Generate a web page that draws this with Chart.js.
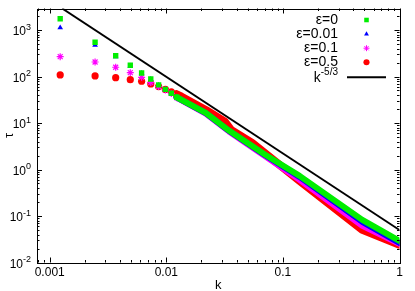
<!DOCTYPE html>
<html>
<head>
<meta charset="utf-8">
<script src="https://cdn.jsdelivr.net/npm/chart.js@4.4.0/dist/chart.umd.min.js"></script>
<style>
  html, body { margin: 0; padding: 0; background: #fff; }
  #wrap { width: 415px; height: 291px; position: relative; }
</style>
</head>
<body>
<div id="wrap"><canvas id="main-chart"></canvas></div>
<script>
//data
//first resolved wavenumbers (separate markers)
const k_low = [0.00123, 0.00245, 0.00368, 0.00491, 0.00614, 0.00736, 0.00859, 0.00982, 0.01104, 0.01227];
const tau_eps0   = [1750, 545, 280, 175, 119, 88.5, 66, 53, 43.6, 35.8];
const tau_eps001 = [1120, 476, 267, 168, 117, 87, 65, 52.5, 43, 35.5];
const tau_eps01  = [267, 205, 158, 121, 96, 74, 61, 51.4, 43.3, 35];
const tau_eps05  = [108, 103, 94.5, 85.5, 79, 69.2, 60.6, 52.7, 47, 41.5];

//dense tail, the markers overlap into a band
const k_tail_eps0   = [0.01227, 0.0218, 0.0347, 0.07, 0.139, 0.48, 1];
const tau_tail_eps0 = [35.8, 16.5, 6.8, 2.1, 0.73, 0.0827, 0.0292];
const k_tail_eps001   = [0.01227, 0.0218, 0.0347, 0.07, 0.139, 0.48, 1];
const tau_tail_eps001 = [35.5, 16.3, 6.7, 2.05, 0.694, 0.0749, 0.0265];
const k_tail_eps01   = [0.01227, 0.0218, 0.0347, 0.07, 0.139, 0.48, 1];
const tau_tail_eps01 = [35, 16, 6.5, 1.95, 0.598, 0.0614, 0.0252];
const k_tail_eps05   = [0.01227, 0.0135, 0.0218, 0.032, 0.0359, 0.0544, 0.139, 0.48, 1];
const tau_tail_eps05 = [41.5, 36.9, 19.1, 10.5, 7.1, 3.73, 0.569, 0.0505, 0.024];

//reference slope k^-5/3
const k_ref   = [0.00128, 1];
const tau_ref = [2900, 0.05];

//legend and axes text
const series_labels = ['\u03b5=0', '\u03b5=0.01', '\u03b5=0.1', '\u03b5=0.5'];
const series_colors = ['#00ee00', '#0000ff', '#ff00ff', '#ff0000'];
const series_points = ['rect', 'triangle', 'star', 'circle'];
const x_ticks = [0.001, 0.01, 0.1, 1];
const x_tick_labels = ['0.001', '0.01', '0.1', '1'];
const y_ticks = [0.01, 0.1, 1, 10, 100, 1000];
const y_tick_exps = ['-2', '-1', '0', '1', '2', '3'];

//helper to zip two arrays into points
function pts(xs, ys) {
  return xs.map((x, i) => ({x: x, y: ys[i]}));
}

const lows = [tau_eps0, tau_eps001, tau_eps01, tau_eps05];
const tails = [
  [k_tail_eps0, tau_tail_eps0],
  [k_tail_eps001, tau_tail_eps001],
  [k_tail_eps01, tau_tail_eps01],
  [k_tail_eps05, tau_tail_eps05]
];
const radii = [3.8, 3.3, 3.5, 3.6];
const bands = [6, 6, 6, 8];

const datasets = [];
for (let i = 0; i < 4; i++) {
  //band first, markers on top
  datasets.push({
    label: series_labels[i] + ' tail',
    data: pts(tails[i][0], tails[i][1]),
    showLine: true,
    borderColor: series_colors[i],
    borderWidth: bands[i],
    borderJoinStyle: 'round',
    borderCapStyle: 'round',
    pointRadius: 0,
    tension: 0
  });
  datasets.push({
    label: series_labels[i],
    data: pts(k_low, lows[i]),
    showLine: false,
    pointStyle: series_points[i],
    pointRadius: radii[i],
    backgroundColor: series_colors[i],
    borderColor: series_colors[i],
    borderWidth: i == 2 ? 1.2 : 0
  });
}
datasets.push({
  label: 'k^-5/3',
  data: pts(k_ref, tau_ref),
  showLine: true,
  borderColor: '#000',
  borderWidth: 2,
  pointRadius: 0
});

const FONT = '"Liberation Sans", Arial, sans-serif';

//gnuplot style frame, ticks, labels and key
const frame = {
  id: 'frame',
  afterDraw(chart) {
    const ctx = chart.ctx;
    const a = chart.chartArea;
    const xs = chart.scales.x, ys = chart.scales.y;
    ctx.save();
    ctx.strokeStyle = '#000';
    ctx.lineWidth = 1;

    //ticks, pointing inwards on all four sides
    ctx.beginPath();
    for (let d = -4; d <= 0; d++) {
      for (let m = 1; m <= 9; m++) {
        const v = m * Math.pow(10, d);
        if (v < xs.min || v > xs.max) continue;
        const px = Math.round(xs.getPixelForValue(v)) + 0.5;
        const len = m == 1 ? 5 : 2.5;
        ctx.moveTo(px, a.bottom); ctx.lineTo(px, a.bottom - len);
        ctx.moveTo(px, a.top); ctx.lineTo(px, a.top + len);
      }
    }
    for (let d = -2; d <= 3; d++) {
      for (let m = 1; m <= 9; m++) {
        const v = m * Math.pow(10, d);
        if (v < ys.min || v > ys.max) continue;
        const py = Math.round(ys.getPixelForValue(v)) + 0.5;
        const len = m == 1 ? 5 : 2.5;
        ctx.moveTo(a.left, py); ctx.lineTo(a.left + len, py);
        ctx.moveTo(a.right, py); ctx.lineTo(a.right - len, py);
      }
    }
    ctx.stroke();
    ctx.strokeRect(Math.round(a.left) + 0.5, Math.round(a.top) + 0.5,
                   Math.round(a.right - a.left), Math.round(a.bottom - a.top));

    ctx.fillStyle = '#000';
    //x tick labels
    ctx.font = '12px ' + FONT;
    ctx.textAlign = 'center';
    ctx.textBaseline = 'middle';
    x_ticks.forEach((v, i) => {
      ctx.fillText(x_tick_labels[i], xs.getPixelForValue(v), a.bottom + 10);
    });
    //y tick labels, 10 with a raised exponent
    y_ticks.forEach((v, i) => {
      const py = ys.getPixelForValue(v);
      ctx.font = '9px ' + FONT;
      const we = ctx.measureText(y_tick_exps[i]).width;
      ctx.textAlign = 'right';
      ctx.fillText(y_tick_exps[i], 31, py - 2.5);
      ctx.font = '12px ' + FONT;
      ctx.fillText('10', 31 - we, py + 2);
    });
    //axis titles
    ctx.font = '13px ' + FONT;
    ctx.textAlign = 'center';
    ctx.fillText('k', (a.left + a.right) / 2, 285);
    ctx.save();
    ctx.translate(9.5, (a.top + a.bottom) / 2);
    ctx.rotate(-Math.PI / 2);
    ctx.fillText('\u03c4', 0, 0);
    ctx.restore();

    //key, text right aligned with the sample on its right
    const kx = 338, sx = 366.5, y0 = 20, dy = 14.1;
    ctx.textAlign = 'right';
    for (let i = 0; i < 4; i++) {
      const ky = y0 + i * dy;
      ctx.fillStyle = '#000';
      ctx.font = '14px ' + FONT;
      ctx.fillText(series_labels[i], kx, ky);
      ctx.fillStyle = series_colors[i];
      ctx.strokeStyle = series_colors[i];
      ctx.lineWidth = 1;
      Chart.helpers.drawPoint(ctx, {
        pointStyle: series_points[i],
        radius: radii[i] * 0.85,
        borderWidth: i == 2 ? 1 : 0
      }, sx, ky);
    }
    const ry = 77.3;
    ctx.fillStyle = '#000';
    ctx.font = '10px ' + FONT;
    ctx.fillText('-5/3', kx, 72.5);
    const wexp = ctx.measureText('-5/3').width;
    ctx.font = '14px ' + FONT;
    ctx.fillText('k', kx - wexp, 78);
    ctx.strokeStyle = '#000';
    ctx.lineWidth = 2;
    ctx.beginPath();
    ctx.moveTo(347, ry); ctx.lineTo(386, ry);
    ctx.stroke();
    ctx.restore();
  }
};

const chart_elem = document.getElementById('main-chart');
const main_chart = new Chart(chart_elem, {
  type: 'scatter',
  data: { datasets: datasets },
  options: {
    responsive: true,
    maintainAspectRatio: false,
    animation: false,
    layout: { padding: { left: 37, right: 15.5, top: 8.5, bottom: 28.5 } },
    scales: {
      x: { type: 'logarithmic', min: 0.000778, max: 1, display: false },
      y: { type: 'logarithmic', min: 0.01, max: 2900, display: false }
    },
    plugins: {
      legend: { display: false },
      tooltip: { enabled: false }
    }
  },
  plugins: [frame]
});
</script>
</body>
</html>
